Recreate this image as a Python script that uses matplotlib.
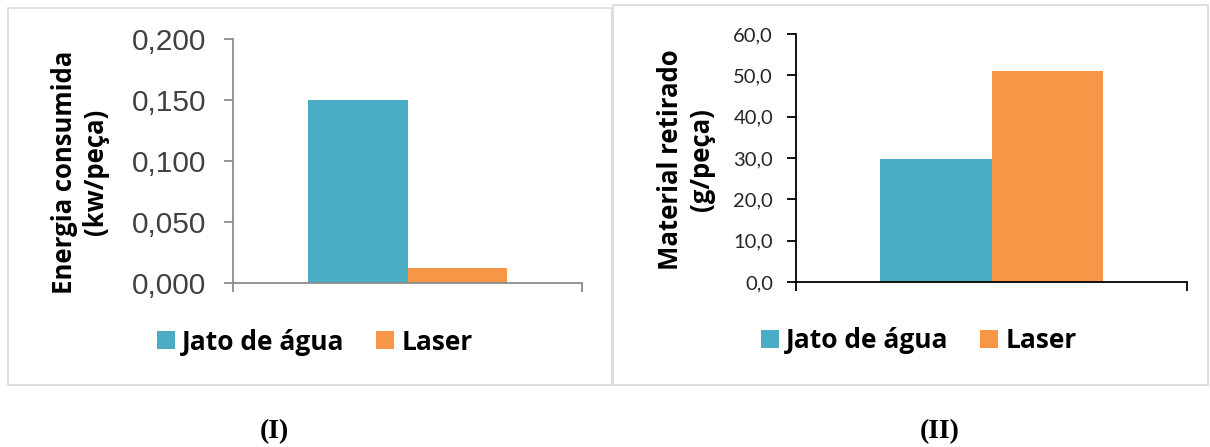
import matplotlib
matplotlib.use("Agg")
import matplotlib.pyplot as plt
from matplotlib.patches import Rectangle
from matplotlib.ticker import FuncFormatter, MultipleLocator

# Dados dos dois gráficos
categorias = ["Jato de água", "Laser"]
energia = [0.150, 0.012]      # kw/peça
material = [29.8, 51.0]       # g/peça
cores = ["#4bacc6", "#f79646"]

W, H = 1210, 447
fig = plt.figure(figsize=(W / 100, H / 100), dpi=100)

FONTE = "Open Sans"


def caixa(x0, y0, x1, y1):
    # moldura cinza clara em pixels (origem no topo)
    fig.patches.append(Rectangle((x0 / W, 1 - y1 / H), (x1 - x0) / W, (y1 - y0) / H,
                                 transform=fig.transFigure, fill=False,
                                 edgecolor="#d9d9d9", linewidth=1.2))


def eixo(left, right, top, bottom):
    return fig.add_axes([left / W, 1 - bottom / H, (right - left) / W, (bottom - top) / H])


def barras(ax, valores, largura=0.285):
    for i, (v, c) in enumerate(zip(valores, cores)):
        desloc = (i - 0.5) * largura
        ax.bar(0.5 + desloc, v, width=largura, color=c, label=categorias[i])
    ax.set_xlim(0, 1)
    ax.set_xticks([0, 1])
    ax.set_xticklabels(["", ""])
    for s in ["top", "right"]:
        ax.spines[s].set_visible(False)


def legenda(ax, cx, cy):
    ax.legend(loc="center", bbox_to_anchor=(cx / W, 1 - cy / H), bbox_transform=fig.transFigure,
              ncol=2, frameon=False, prop={"family": FONTE, "weight": "bold", "size": 19},
              handlelength=0.68, handleheight=0.65, handletextpad=0.27, columnspacing=1.2)


caixa(8, 8, 612, 385)
caixa(613, 5, 1208, 385)

# (I) Energia consumida
ax1 = eixo(233, 582, 39, 283)
barras(ax1, energia)
ax1.set_ylim(0, 0.2)
ax1.yaxis.set_major_locator(MultipleLocator(0.05))
ax1.yaxis.set_major_formatter(FuncFormatter(lambda v, p: f"{v:.3f}".replace(".", ",")))
for s in ["left", "bottom"]:
    ax1.spines[s].set_color("#8c8c8c")
    ax1.spines[s].set_linewidth(1.3)
ax1.tick_params(axis="y", length=6.5, width=1.3, color="#8c8c8c", pad=13,
                labelsize=21.5, labelcolor="#404040")
ax1.tick_params(axis="x", length=6.5, width=1.3, color="#8c8c8c")
for t in ax1.get_yticklabels():
    t.set_family("Liberation Sans")
legenda(ax1, 315, 342)
fig.text(80 / W, 1 - 172 / H, "Energia consumida\n(kw/peça)", rotation=90, ha="center", va="center",
         family=FONTE, weight="bold", size=18.5, linespacing=1.2, multialignment="center")

# (II) Material retirado
ax2 = eixo(796, 1187, 34, 282)
barras(ax2, material)
ax2.set_ylim(0, 60)
ax2.yaxis.set_major_locator(MultipleLocator(10))
ax2.yaxis.set_major_formatter(FuncFormatter(lambda v, p: f"{v:.1f}".replace(".", ",")))
for s in ["left", "bottom"]:
    ax2.spines[s].set_color("black")
    ax2.spines[s].set_linewidth(1.3)
ax2.tick_params(axis="y", length=6.5, width=1.3, pad=10, labelsize=14.5, labelcolor="#262626")
ax2.tick_params(axis="x", length=6.5, width=1.3)
for t in ax2.get_yticklabels():
    t.set_family("Lato")
legenda(ax2, 919, 341)
fig.text(686 / W, 1 - 160 / H, "Material retirado\n(g/peça)", rotation=90, ha="center", va="center",
         family=FONTE, weight="bold", size=18.5, linespacing=1.2, multialignment="center")

# Legendas (I) e (II)
fig.text(274 / W, 1 - 432 / H, "(I)", ha="center", va="center", family="Liberation Serif",
         weight="bold", size=20)
fig.text(940 / W, 1 - 432 / H, "(II)", ha="center", va="center", family="Liberation Serif",
         weight="bold", size=20)

fig.savefig("out.png", dpi=100)
